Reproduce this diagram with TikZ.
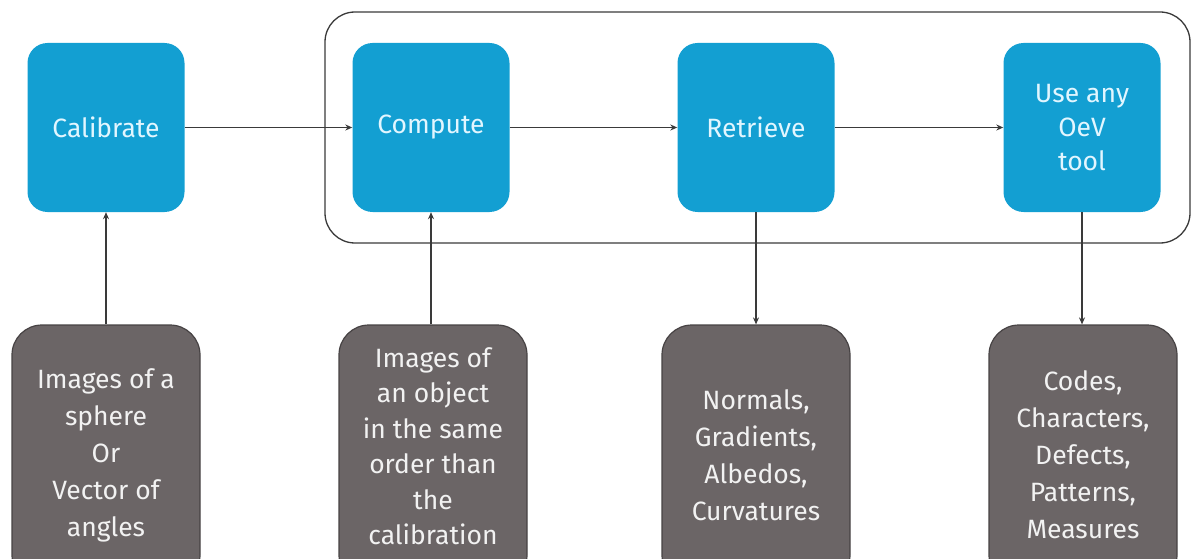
\documentclass[tikz,border=0pt]{standalone}
\usepackage{fontspec}
\setmainfont{Fira Sans}
\usetikzlibrary{arrows.meta}
\definecolor{blueb}{HTML}{139FD2}
\definecolor{bluetext}{HTML}{E2F6FF}
\definecolor{grayb}{HTML}{6B6566}
\definecolor{grayborder}{HTML}{474344}
\definecolor{graytext}{HTML}{F2F2F2}
\definecolor{linec}{HTML}{3A3A3A}
\begin{document}
\begin{tikzpicture}[x=1pt,y=-1pt,
  bluebox/.style={fill=blueb, rounded corners=20pt, minimum width=157pt, minimum height=169pt, text=bluetext, font=\fontsize{26.5}{34}\selectfont, align=center, inner sep=0pt},
  graybox/.style={fill=grayb, draw=grayborder, line width=1.2pt, rounded corners=30pt, minimum width=188pt, minimum height=260pt, text=graytext, font=\fontsize{26.5}{37}\selectfont, align=center, inner sep=0pt},
  graylabel/.style={text=graytext, font=\fontsize{26.5}{35.5}\selectfont, align=center, inner sep=0pt},
  groupbox/.style={draw=linec, line width=1.3pt, rounded corners=30pt, minimum width=865pt, minimum height=231pt, inner sep=0pt},
  conn/.style={draw=linec, line width=1.3pt, -{Stealth[length=7pt,width=6pt]}}]
\useasboundingbox (0,0) rectangle (1192,559);
\clip (0,0) rectangle (1192,559);
\node[groupbox] (grp) at (757.5,127.5) {};
\node[bluebox] (cal) at (106,127.5) {Calibrate};
\node[bluebox] (comp) at (431,127.5) {Compute};
\node[bluebox] (ret) at (756,127.5) {Retrieve};
\node[bluebox] (use) at (1082,127.5) {Use any\\OeV\\tool};
\node[graybox] (g1) at (106,455) {Images of a\\sphere\\Or\\Vector of\\angles};
\node[graybox] (g2) at (433,455) {};
\node[graylabel] (g2t) at (433,446) {Images of\\an object\\in the same\\order than\\the\\calibration};
\node[graybox] (g3) at (756,455) {Normals,\\Gradients,\\Albedos,\\Curvatures};
\node[graybox] (g4) at (1083,455) {Codes,\\Characters,\\Defects,\\Patterns,\\Measures};
\draw[conn] (cal) -- (comp);
\draw[conn] (comp) -- (ret);
\draw[conn] (ret) -- (use);
\draw[conn] (g1.north) -- (cal.south);
\draw[conn] (comp.south |- g2.north) -- (comp.south);
\draw[conn] (ret.south) -- (ret.south |- g3.north);
\draw[conn] (use.south) -- (use.south |- g4.north);
\end{tikzpicture}
\end{document}
